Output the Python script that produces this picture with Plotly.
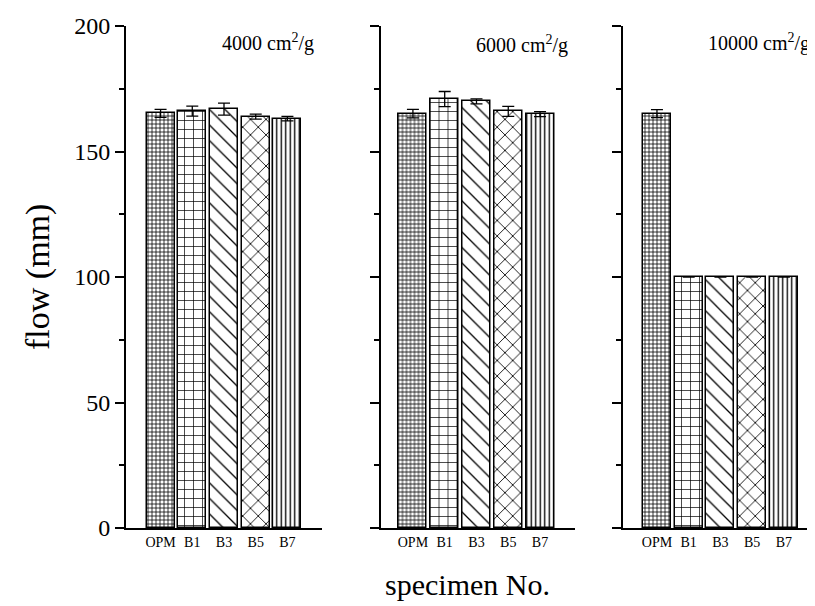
import plotly.graph_objects as go

W, H = 815, 606
OFF = 8  # page body margin offset

categories = ["OPM", "B1", "B3", "B5", "B7"]
panel_labels = ["4000 cm<sup>2</sup>/g", "6000 cm<sup>2</sup>/g", "10000 cm<sup>2</sup>/g"]

flow_4000 = [165.2, 166.1, 166.9, 163.9, 163.1]
err_4000 = [1.6, 2.0, 2.4, 1.0, 0.9]
flow_6000 = [165.1, 170.9, 170.0, 166.0, 164.9]
err_6000 = [1.7, 3.0, 1.0, 2.0, 1.0]
flow_10000 = [165.1, 100.0, 100.0, 100.0, 100.0]
err_10000 = [1.6, 0, 0, 0, 0]

values = [flow_4000, flow_6000, flow_10000]
errors = [err_4000, err_6000, err_10000]

pattern_shapes = ["+", "+", "\\", "x", "|"]
pattern_sizes = [4, 9, 11, 11, 4.5]
pattern_solid = [0.35, 0.15, 0.12, 0.15, 0.3]

FONT = "Liberation Serif, Times New Roman, serif"


def fx(px):
    return (px - OFF) / W


def fy(py):
    return 1 - (py - OFF) / H


# pixel layout of panels (left px, right px, x-range)
panels = [
    (126, 322, [-1.09, 5.09]),
    (380.5, 575, [-1.02, 5.10]),
    (623, 815, [-1.07, 4.98]),
]
y_top_px, y_bot_px = 26, 528

fig = go.Figure()
for i in range(3):
    xa = "x" if i == 0 else f"x{i+1}"
    ya = "y" if i == 0 else f"y{i+1}"
    fig.add_trace(go.Bar(
        x=list(range(len(categories))), y=values[i], xaxis=xa, yaxis=ya,
        width=0.88,
        marker=dict(
            color="white",
            line=dict(color="black", width=1.5),
            pattern=dict(shape=pattern_shapes, size=pattern_sizes,
                         solidity=pattern_solid, fgcolor="black",
                         bgcolor="white", fillmode="replace"),
        ),
        error_y=dict(type="data", array=errors[i], color="black",
                     thickness=1.3, width=6),
        showlegend=False,
    ))

layout = dict(
    template="none",
    width=W, height=H,
    margin=dict(l=0, r=0, t=0, b=0, pad=0, autoexpand=False),
    plot_bgcolor="white", paper_bgcolor="white",
    font=dict(family=FONT, color="black"),
    bargap=0,
)
ydom = [fy(y_bot_px), fy(y_top_px)]
for i, (l, r, rng) in enumerate(panels):
    xk = "xaxis" if i == 0 else f"xaxis{i+1}"
    yk = "yaxis" if i == 0 else f"yaxis{i+1}"
    ya = "y" if i == 0 else f"y{i+1}"
    xa = "x" if i == 0 else f"x{i+1}"
    layout[xk] = dict(
        domain=[fx(l), fx(r)], range=rng, anchor=ya, automargin=False,
        tickmode="array", tickvals=list(range(len(categories))),
        ticktext=categories, ticks="", showline=True, linecolor="black",
        linewidth=2, showgrid=False, zeroline=False,
        tickfont=dict(size=14, family=FONT),
    )
    layout[yk] = dict(
        domain=ydom, range=[0, 200], anchor=xa, automargin=False,
        tickmode="linear", tick0=0, dtick=50,
        ticks="outside", ticklen=9, tickwidth=2, tickcolor="black",
        minor=dict(ticks="outside", ticklen=5, tickwidth=2, dtick=25,
                   tickcolor="black", showgrid=False),
        showline=True, linecolor="black", linewidth=2,
        showgrid=False, zeroline=False,
        showticklabels=(i == 0),
        tickfont=dict(size=24, family=FONT),
    )
fig.update_layout(**layout)

label_pos = [(316, 42), (570, 44), (812, 43)]
for (px, py), txt in zip(label_pos, panel_labels):
    fig.add_annotation(text=txt, x=fx(px), y=fy(py), xref="paper", yref="paper",
                       xanchor="right", yanchor="middle", showarrow=False,
                       font=dict(size=20, family=FONT))

fig.add_annotation(text="flow (mm)", x=fx(38), y=fy(277), xref="paper", yref="paper",
                   textangle=-90, showarrow=False, xanchor="center", yanchor="middle",
                   font=dict(size=34, family=FONT))
fig.add_annotation(text="specimen No.", x=fx(468), y=fy(584), xref="paper", yref="paper",
                   showarrow=False, xanchor="center", yanchor="middle",
                   font=dict(size=30, family=FONT))

fig.write_html("out.html")
